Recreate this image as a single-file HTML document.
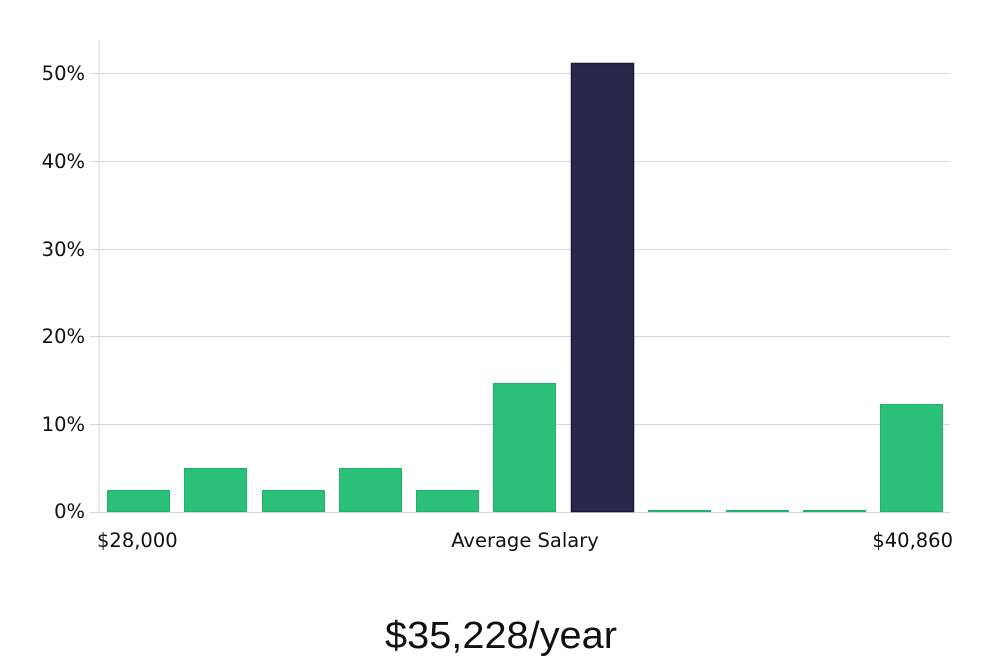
<!DOCTYPE html>
<html><head><style>
body{margin:0;width:1000px;height:660px;background:#fff;overflow:hidden}
svg text{font-family:"DejaVu Sans","Liberation Sans",sans-serif}
</style></head><body>
<svg width="1000" height="660" xmlns="http://www.w3.org/2000/svg">
<g stroke="#d6d6d6" stroke-width="1">
<line x1="99" y1="40" x2="99" y2="512"/>
<line x1="90" y1="424.5" x2="950" y2="424.5"/>
<line x1="90" y1="336.5" x2="950" y2="336.5"/>
<line x1="90" y1="249.5" x2="950" y2="249.5"/>
<line x1="90" y1="161.5" x2="950" y2="161.5"/>
<line x1="90" y1="73.5" x2="950" y2="73.5"/>
<line x1="90" y1="512.5" x2="950" y2="512.5"/>
</g>
<g font-size="19.5" fill="#111" text-anchor="end">
<text x="85" y="518">0%</text>
<text x="85" y="431">10%</text>
<text x="85" y="343">20%</text>
<text x="85" y="256">30%</text>
<text x="85" y="168">40%</text>
<text x="85" y="80">50%</text>
</g>
<g fill="#2bc077" stroke="#23b26c" stroke-width="1">
<rect x="107.5" y="490.5" width="62" height="21"/>
<rect x="184.5" y="468.5" width="62" height="43"/>
<rect x="262.5" y="490.5" width="62" height="21"/>
<rect x="339.5" y="468.5" width="62" height="43"/>
<rect x="416.5" y="490.5" width="62" height="21"/>
<rect x="493.5" y="383.5" width="62" height="128"/>
<rect x="648.5" y="510.5" width="62" height="1"/>
<rect x="726.5" y="510.5" width="62" height="1"/>
<rect x="803.5" y="510.5" width="62" height="1"/>
<rect x="880.5" y="404.5" width="62" height="107"/>
</g>
<rect x="571.5" y="63.5" width="62" height="448" fill="#29274a" stroke="#1a1840" stroke-width="1.5"/>
<g font-size="19.5" fill="#111">
<text x="97" y="547">$28,000</text>
<text x="525" y="547" text-anchor="middle">Average Salary</text>
<text x="953" y="547" text-anchor="end">$40,860</text>
</g>
<text x="501" y="648" font-size="38" text-anchor="middle" fill="#111" style="font-family:'Liberation Sans Narrow','Liberation Sans',sans-serif" textLength="232" lengthAdjust="spacingAndGlyphs">$35,228/year</text>
</svg>
</body></html>
